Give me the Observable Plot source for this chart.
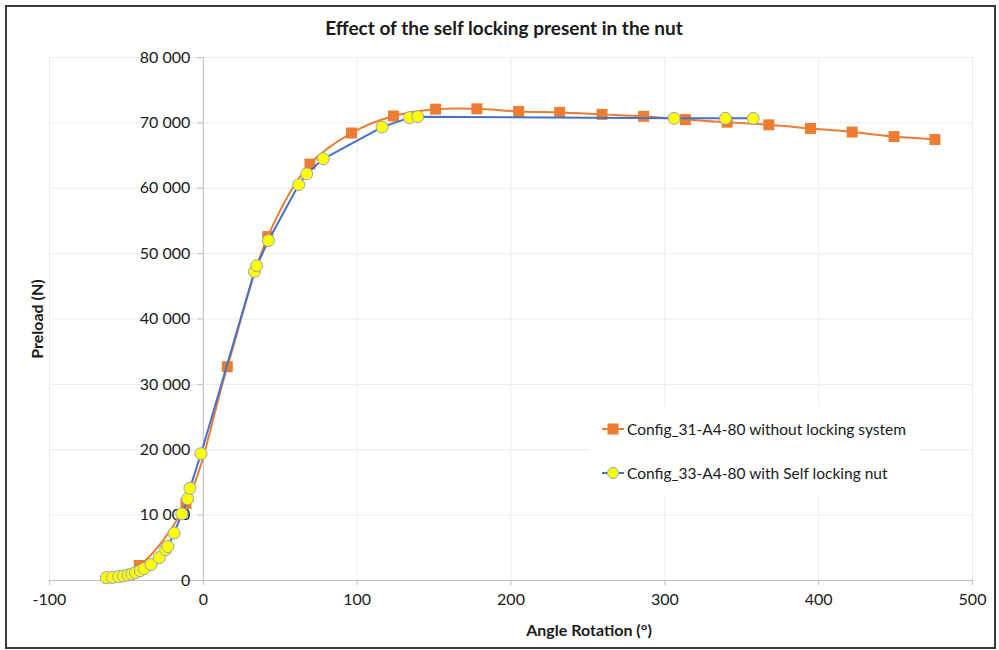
<!DOCTYPE html>
<html>
<head>
<meta charset="utf-8">
<script src="https://cdn.jsdelivr.net/npm/d3@7"></script>
<script src="https://cdn.jsdelivr.net/npm/@observablehq/plot@0.6"></script>
<style>
  html, body { margin: 0; padding: 0; background: #fff; }
  #wrap { position: relative; width: 999px; height: 650px; font-family: Lato, "Open Sans", sans-serif; }
  #border { position: absolute; left: 5px; top: 5px; width: 987px; height: 640px; border: 2px solid #3a3a3a; pointer-events: none; }
  #title { position: absolute; left: 0; width: 1008px; top: 16px; text-align: center; font-size: 19px; font-weight: bold; color: #1a1a1a; }
  #legend { position: absolute; left: 590px; top: 406px; width: 330px; height: 90px; background: #fff; font-size: 15.5px; color: #1a1a1a; }
  .entry { position: absolute; left: 12px; display: flex; align-items: center; height: 20px; }
  .entry svg { margin-right: 3px; }
</style>
</head>
<body>
<div id="wrap">
  <div id="chart"></div>
  <div id="title">Effect of the self locking present in the nut</div>
  <div id="legend"></div>
  <div id="border"></div>
</div>
<script>
// Series 1: Config_31-A4-80 without locking system
const angle31 = [-62, -41.6, -11.3, 15.6, 41.9, 69.3, 96.3, 123.6, 151, 177.8, 205, 231.6, 259.2, 286.2, 313.4, 340.5, 367.6, 394.7, 421.8, 449, 475.6];
const preload31 = [400, 2300, 11750, 32700, 52600, 63700, 68450, 71050, 72100, 72150, 71750, 71600, 71300, 71000, 70500, 70100, 69700, 69150, 68600, 67900, 67450];

// Series 2: Config_33-A4-80 with Self locking nut
const angle33 = [-63, -59, -55, -52, -49, -46.5, -44, -41, -38.5, -34, -28.6, -24.5, -23, -19, -14, -10.2, -8.7, -1.5, 33.2, 34.7, 42.3, 62, 67.2, 78, 116.2, 134, 139.4, 306, 339.4, 357.4];
const preload33 = [450, 480, 600, 700, 850, 1000, 1200, 1500, 1800, 2450, 3500, 4700, 5200, 7250, 10200, 12500, 14100, 19400, 47250, 48150, 52000, 60550, 62200, 64500, 69350, 70800, 70950, 70700, 70700, 70700];

const seriesNames = ["Config_31-A4-80 without locking system", "Config_33-A4-80 with Self locking nut"];

const xTicks = [-100, 0, 100, 200, 300, 400, 500];
const yTicks = [0, 10000, 20000, 30000, 40000, 50000, 60000, 70000, 80000];

const orange = "#ED7D31";
const blue = "#4472C4";
const yellow = "#FFFF00";
const ringColor = "#8FA6C8";

const s31 = angle31.map((a, i) => ({angle: a, preload: preload31[i]}));
const s33 = angle33.map((a, i) => ({angle: a, preload: preload33[i]}));

const fmt = d => d3.format(",")(d).replace(/,/g, "\u00a0");

const chart = Plot.plot({
  width: 999,
  height: 650,
  marginLeft: 49,
  marginRight: 27,
  marginTop: 57,
  marginBottom: 70,
  style: {fontFamily: "Lato, 'Open Sans', sans-serif", fontSize: "16px", color: "#1a1a1a", background: "transparent"},
  x: {domain: [-100, 500]},
  y: {domain: [0, 80000], axis: null},
  marks: [
    Plot.gridX(xTicks, {stroke: "#ececec", strokeOpacity: 1}),
    Plot.gridY(yTicks, {stroke: "#ececec", strokeOpacity: 1}),
    Plot.ruleY([0], {stroke: "#bfbfbf", strokeWidth: 1}),
    Plot.ruleX([0], {stroke: "#bfbfbf", strokeWidth: 1}),
    Plot.ruleY(yTicks, {x1: -3.4, x2: 0, stroke: "#bfbfbf"}),
    Plot.axisX({ticks: xTicks, tickSize: 5, tickPadding: 8, stroke: "#bfbfbf", label: null, tickFormat: d => String(d), fontSize: 16}),
    Plot.text(yTicks, {x: 0, y: d => d, text: fmt, dx: -13, textAnchor: "end", fontSize: 16, fill: "#1a1a1a"}),
    Plot.text(["Angle Rotation (°)"], {frameAnchor: "bottom", dx: 78, dy: 55, text: d => d, fontWeight: "bold", fontSize: 16, fill: "#1a1a1a"}),
    Plot.text(["Preload (N)"], {frameAnchor: "left", dx: -12, dy: 0, rotate: -90, textAnchor: "middle", text: d => d, fontWeight: "bold", fontSize: 16, fill: "#1a1a1a"}),
    // series 1
    Plot.line(s31, {x: "angle", y: "preload", stroke: orange, strokeWidth: 2, curve: "catmull-rom"}),
    Plot.dot(s31, {x: "angle", y: "preload", symbol: "square", r: 6.2, fill: orange, stroke: "none"}),
    // series 2
    Plot.line(s33, {x: "angle", y: "preload", stroke: blue, strokeWidth: 2}),
    Plot.dot(s33, {x: "angle", y: "preload", symbol: "circle", r: 6, fill: yellow, stroke: ringColor, strokeWidth: 1})
  ]
});
document.getElementById("chart").appendChild(chart);

// legend
const legend = document.getElementById("legend");
const sw = (kind) => {
  const svg = d3.create("svg").attr("width", 22).attr("height", 14);
  svg.append("line").attr("x1", 0).attr("x2", 22).attr("y1", 7).attr("y2", 7)
    .attr("stroke", kind === 0 ? orange : blue).attr("stroke-width", 2);
  if (kind === 0) {
    svg.append("rect").attr("x", 5.5).attr("y", 1.5).attr("width", 11).attr("height", 11).attr("fill", orange);
  } else {
    svg.append("circle").attr("cx", 11).attr("cy", 7).attr("r", 5.5).attr("fill", yellow).attr("stroke", ringColor);
  }
  return svg.node();
};
seriesNames.forEach((name, i) => {
  const e = document.createElement("div");
  e.className = "entry";
  e.style.top = (i === 0 ? 13 : 57) + "px";
  e.appendChild(sw(i));
  const t = document.createElement("span");
  t.textContent = name;
  e.appendChild(t);
  legend.appendChild(e);
});
</script>
</body>
</html>
